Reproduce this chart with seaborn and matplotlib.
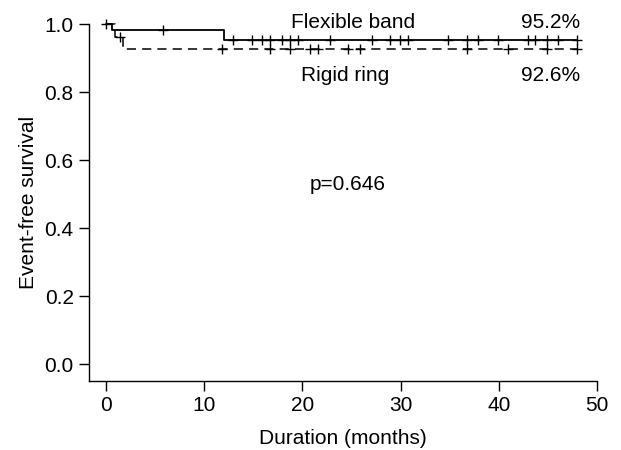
import numpy as np
import pandas as pd
import matplotlib
matplotlib.use("Agg")
import matplotlib.pyplot as plt
import seaborn as sns

# ---- data ----
flex_times = [0, 0.6, 12.0, 48.0]
flex_surv = [1.0, 0.983, 0.952, 0.952]
flex_censor = [0, 5.8, 12.9, 14.9, 15.9, 16.7, 17.9, 18.7, 19.6, 22.8, 27.1, 28.9,
               29.9, 30.8, 34.8, 36.8, 37.9, 39.9, 43.0, 43.7, 44.9, 46.0, 48.0]

rigid_times = [0, 0.9, 1.7, 48.0]
rigid_surv = [1.0, 0.963, 0.926, 0.926]
rigid_censor = [1.4, 11.8, 16.7, 18.7, 20.8, 21.6, 24.6, 25.9, 36.8, 40.9, 44.9, 48.0]

x_ticks = [0, 10, 20, 30, 40, 50]
y_ticks = [0.0, 0.2, 0.4, 0.6, 0.8, 1.0]
labels = {"flex": "Flexible band", "rigid": "Rigid ring"}
final_pct = {"flex": "95.2%", "rigid": "92.6%"}
p_text = "p=0.646"


def step_at(times, surv, t):
    idx = np.searchsorted(times, t, side="right") - 1
    return np.asarray(surv)[np.clip(idx, 0, len(surv) - 1)]


sns.set_style("ticks", {"axes.edgecolor": "black", "text.color": "black",
                        "axes.labelcolor": "black", "xtick.color": "black",
                        "ytick.color": "black"})
plt.rcParams["font.family"] = ["Liberation Sans", "DejaVu Sans"]
plt.rcParams["axes.linewidth"] = 1.0

fig = plt.figure(figsize=(6.21, 4.5), dpi=100)
ax = fig.add_axes([89 / 621, 1 - 381 / 450, (597 - 89) / 621, (381 - 24) / 450])

df_f = pd.DataFrame({"t": flex_times, "s": flex_surv})
df_r = pd.DataFrame({"t": rigid_times, "s": rigid_surv})
sns.lineplot(data=df_f, x="t", y="s", drawstyle="steps-post", estimator=None,
             color="black", linewidth=1.3, ax=ax, clip_on=False)
sns.lineplot(data=df_r, x="t", y="s", drawstyle="steps-post", estimator=None,
             color="black", linewidth=1.1, ax=ax, clip_on=False,
             dashes=False, linestyle=(0, (6, 4)))

cf = pd.DataFrame({"t": flex_censor,
                   "s": step_at(flex_times, flex_surv, np.array(flex_censor))})
cr = pd.DataFrame({"t": rigid_censor,
                   "s": step_at(rigid_times, rigid_surv, np.array(rigid_censor))})
sns.scatterplot(data=cf, x="t", y="s", marker="+", s=55, color="black",
                linewidth=1.0, ax=ax, clip_on=False, zorder=5)
sns.scatterplot(data=cr, x="t", y="s", marker="+", s=55, color="black",
                linewidth=1.0, ax=ax, clip_on=False, zorder=5)

ax.set_xlim(-1.73, 50)
ax.set_ylim(-0.05, 1.0)
ax.set_xticks(x_ticks)
ax.set_yticks(y_ticks)
ax.set_xticklabels([str(v) for v in x_ticks])
ax.set_yticklabels([f"{v:.1f}" for v in y_ticks])
ax.tick_params(axis="both", length=7, width=1.0, labelsize=15, pad=4,
               color="black", labelcolor="black")
ax.set_xlabel("Duration (months)", fontsize=15, labelpad=10, color="black")
ax.set_ylabel("Event-free survival", fontsize=15, labelpad=5, color="black")
sns.despine(ax=ax)

ax.text(25.2, 0.988, labels["flex"], fontsize=15, ha="center", va="baseline", color="black")
ax.text(48.3, 0.988, final_pct["flex"], fontsize=15, ha="right", va="baseline", color="black")
ax.text(24.4, 0.832, labels["rigid"], fontsize=15, ha="center", va="baseline", color="black")
ax.text(48.3, 0.832, final_pct["rigid"], fontsize=15, ha="right", va="baseline", color="black")
ax.text(24.6, 0.512, p_text, fontsize=15, ha="center", va="baseline", color="black")

fig.savefig("out.png", dpi=100)
